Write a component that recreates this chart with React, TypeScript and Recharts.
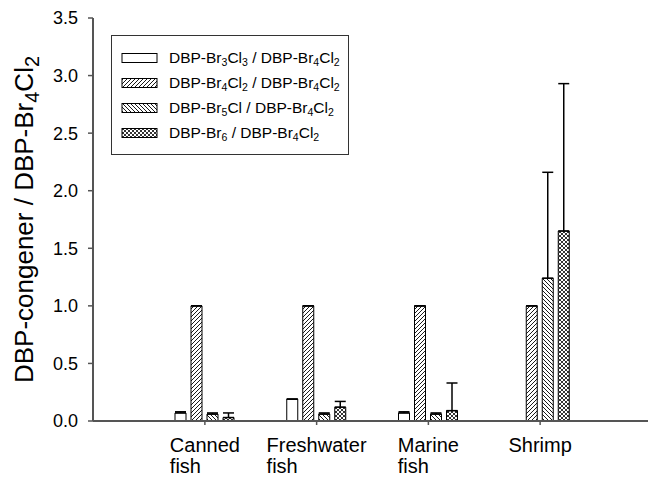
import React from 'react';
import { BarChart, Bar, XAxis, YAxis, ErrorBar, Legend, Label } from 'recharts';

const categories = ['Canned fish', 'Freshwater fish', 'Marine fish', 'Shrimp'];
const br3cl3 = [0.07, 0.19, 0.07, 0];
const br4cl2 = [1.0, 1.0, 1.0, 1.0];
const br5cl = [0.06, 0.06, 0.06, 1.24];
const br6 = [0.03, 0.12, 0.09, 1.65];
const br3cl3Err = [0.01, 0, 0.01, 0];
const br4cl2Err = [0, 0, 0, 0];
const br5clErr = [0.01, 0.01, 0.01, 0.92];
const br6Err = [0.04, 0.05, 0.24, 1.28];
const yTicks = [0, 0.5, 1.0, 1.5, 2.0, 2.5, 3.0, 3.5];

const data = categories.map((name, i) => ({
  name,
  br3cl3: br3cl3[i],
  br4cl2: br4cl2[i],
  br5cl: br5cl[i],
  br6: br6[i],
  e1: [0, br3cl3Err[i]],
  e2: [0, br4cl2Err[i]],
  e3: [0, br5clErr[i]],
  e4: [0, br6Err[i]],
}));

const FONT = '"Liberation Sans", Arial, Helvetica, sans-serif';
const AXIS = '#555';

// series: key, error key, fill, subscript label parts
const series = [
  { key: 'br3cl3', err: 'e1', fill: '#fff', pat: null, label: [['DBP-Br', '3'], ['Cl', '3']] },
  { key: 'br4cl2', err: 'e2', fill: 'url(#hatchFwd)', pat: 'fwd', label: [['DBP-Br', '4'], ['Cl', '2']] },
  { key: 'br5cl', err: 'e3', fill: 'url(#hatchBack)', pat: 'back', label: [['DBP-Br', '5'], ['Cl', '']] },
  { key: 'br6', err: 'e4', fill: 'url(#hatchCross)', pat: 'cross', label: [['DBP-Br', '6']] },
];

const PatternDefs = ({ prefix }: { prefix: string }) => (
  <defs>
    <pattern id={prefix + 'hatchFwd'} patternUnits="userSpaceOnUse" width="4" height="4">
      <rect width="4" height="4" fill="#fff" />
      <path d="M-1,1 l2,-2 M0,4 l4,-4 M3,5 l2,-2" stroke="#000" strokeWidth="0.9" />
    </pattern>
    <pattern id={prefix + 'hatchBack'} patternUnits="userSpaceOnUse" width="4" height="4">
      <rect width="4" height="4" fill="#fff" />
      <path d="M-1,3 l2,2 M0,0 l4,4 M3,-1 l2,2" stroke="#000" strokeWidth="0.9" />
    </pattern>
    <pattern id={prefix + 'hatchCross'} patternUnits="userSpaceOnUse" width="4" height="4">
      <rect width="4" height="4" fill="#fff" />
      <path d="M-1,1 l2,-2 M0,4 l4,-4 M3,5 l2,-2 M-1,3 l2,2 M0,0 l4,4 M3,-1 l2,2" stroke="#000" strokeWidth="0.8" />
    </pattern>
  </defs>
);

const patId = (p: string | null, prefix: string) => {
  if (!p) return '#fff';
  const m: Record<string, string> = { fwd: 'hatchFwd', back: 'hatchBack', cross: 'hatchCross' };
  return `url(#${prefix}${m[p]})`;
};

const subStyle: React.CSSProperties = { fontSize: '0.68em', verticalAlign: '-0.3em', lineHeight: 0 };

const LegendBox = () => (
  <div
    style={{
      border: '1.5px solid #333',
      width: 238,
      height: 120,
      boxSizing: 'border-box',
      padding: '9px 0 0 9px',
      fontFamily: FONT,
      fontSize: 15.5,
      color: '#000',
      background: '#fff',
    }}
  >
    {series.map((s, i) => (
      <div key={s.key} style={{ display: 'flex', alignItems: 'center', height: 25 }}>
        <svg width={38} height={12} style={{ marginRight: 10 }}>
          <PatternDefs prefix={'lg' + i} />
          <rect x={1} y={1.5} width={35} height={9} fill={patId(s.pat, 'lg' + i)} stroke="#000" strokeWidth={1} />
        </svg>
        <span style={{ whiteSpace: 'nowrap' }}>
          {s.label.map(([t, sub], j) => (
            <React.Fragment key={j}>
              {t}
              {sub && <span style={subStyle}>{sub}</span>}
            </React.Fragment>
          ))}
          {' / DBP-Br'}
          <span style={subStyle}>4</span>
          {'Cl'}
          <span style={subStyle}>2</span>
        </span>
      </div>
    ))}
  </div>
);

let measureCtx: CanvasRenderingContext2D | null = null;
const textWidth = (t: string, font: string) => {
  if (!measureCtx) measureCtx = document.createElement('canvas').getContext('2d');
  if (!measureCtx) return t.length * 10;
  measureCtx.font = font;
  return measureCtx.measureText(t).width;
};

const XTick = (props: any) => {
  const { x, y, payload } = props;
  const words = String(payload.value).split(' ');
  const w = textWidth(words[0], `20px ${FONT}`);
  const left = x - w / 2;
  return (
    <text x={left} y={y + 25} fontFamily={FONT} fontSize={20} fill="#000" textAnchor="start">
      <tspan x={left} dy={0}>{words[0]}</tspan>
      {words[1] && <tspan x={left} dy={21}>{words[1]}</tspan>}
    </text>
  );
};

const YLabel = (props: any) => {
  const { viewBox } = props;
  const cy = viewBox.y + viewBox.height / 2;
  const cx = 33;
  return (
    <text
      x={cx}
      y={cy}
      transform={`rotate(-90 ${cx} ${cy})`}
      textAnchor="middle"
      fontFamily={FONT}
      fontSize={26}
      fill="#000"
    >
      DBP-congener / DBP-Br
      <tspan fontSize={20} dy={6}>4</tspan>
      <tspan dy={-6}>Cl</tspan>
      <tspan fontSize={20} dy={6}>2</tspan>
    </text>
  );
};

export default function App() {
  return (
    <div style={{ position: 'absolute', left: 0, top: 0, background: '#fff' }}>
      <BarChart
        width={648}
        height={478}
        data={data}
        margin={{ top: 18, right: 0, bottom: 0, left: 0 }}
        barSize={11}
        barGap={5}
      >
        <PatternDefs prefix="" />
        <XAxis
          dataKey="name"
          height={57}
          padding={{ left: 56, right: 52 }}
          axisLine={{ stroke: AXIS, strokeWidth: 2 }}
          tickLine={{ stroke: AXIS, strokeWidth: 1.5 }}
          tickSize={4}
          tick={<XTick />}
          interval={0}
        />
        <YAxis
          width={93}
          domain={[0, 3.5]}
          ticks={yTicks}
          tickFormatter={(v: number) => v.toFixed(1)}
          axisLine={{ stroke: AXIS, strokeWidth: 2 }}
          tickLine={{ stroke: AXIS, strokeWidth: 1.5 }}
          tickSize={5}
          tickMargin={10}
          tick={{ fontFamily: FONT, fontSize: 18, fill: '#000' }}
          allowDataOverflow
        >
          <Label content={<YLabel />} />
        </YAxis>
        <Legend
          layout="vertical"
          align="center"
          verticalAlign="middle"
          content={<LegendBox />}
          wrapperStyle={{ position: 'absolute', left: 111, top: 35, width: 238, height: 120 }}
        />
        {series.map((s) => (
          <Bar key={s.key} dataKey={s.key} fill={s.fill} stroke="#000" strokeWidth={1} isAnimationActive={false}>
            <ErrorBar dataKey={s.err} width={5.5} stroke="#000" strokeWidth={1.5} isAnimationActive={false} />
          </Bar>
        ))}
      </BarChart>
    </div>
  );
}
